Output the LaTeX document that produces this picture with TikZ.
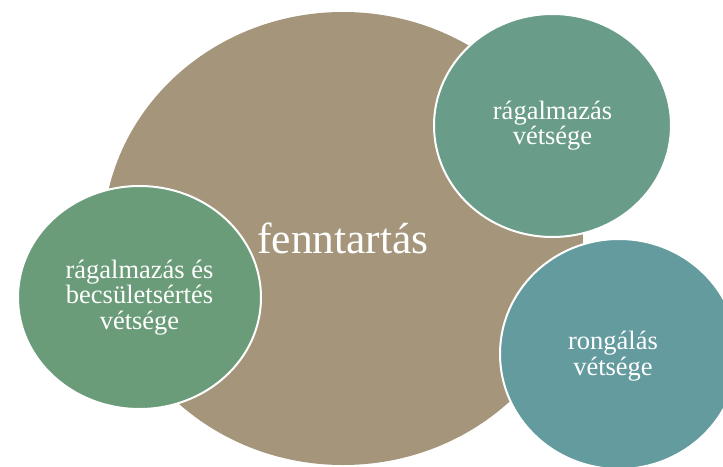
\documentclass[tikz,border=0pt]{standalone}
\usepackage{fontspec}
\setmainfont{Liberation Serif}
\usetikzlibrary{shapes.geometric}
\definecolor{coretan}{HTML}{A5967B}
\definecolor{leftgreen}{HTML}{6A9C79}
\definecolor{topgreen}{HTML}{699D89}
\definecolor{lowteal}{HTML}{649B9E}
\def\fsize{26.5}

\begin{document}
\begin{tikzpicture}[x=1pt, y=-1pt,
    every node/.style={anchor=center, text=white, align=center, inner sep=0pt,
      font=\fontsize{\fsize}{25.5}\selectfont},
    bubble/.style={ellipse, draw=white, line width=2pt}]
      \useasboundingbox (0,0) rectangle (723,466);
      \node[ellipse, fill=coretan, minimum width=480pt, minimum height=453pt,
        font=\fontsize{43.5}{44}\selectfont] (core) at (343, 238.5) {fenntartás};
      \node[bubble, fill=topgreen, minimum width=237pt, minimum height=223pt] (defame) at (552.5, 125.5) {rágalmazás\\vétsége};
      \node[bubble, fill=lowteal, minimum width=238pt, minimum height=230pt] (damage) at (619, 354) {};
      \node (damagetext) at (613, 356) {rongálás\\vétsége};
      \node[bubble, fill=leftgreen, minimum width=243pt, minimum height=223pt] (insult) at (139.5, 297.5) {rágalmazás és\\becsületsértés\\vétsége};
    \end{tikzpicture}
\end{document}
